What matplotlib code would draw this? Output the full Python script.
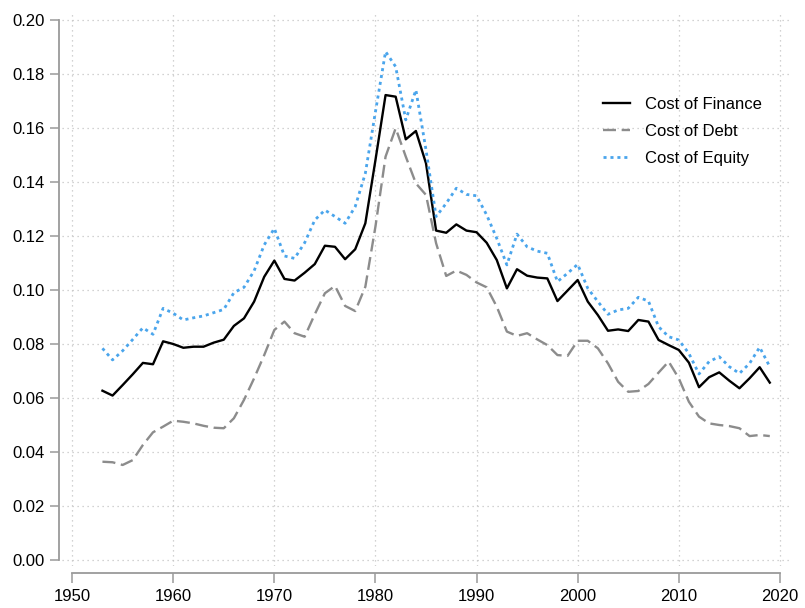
import matplotlib
matplotlib.use("Agg")
import matplotlib.pyplot as plt
import numpy as np

plt.rcParams['font.family'] = ['Liberation Sans', 'DejaVu Sans']

years = list(range(1953, 2020))

cost_finance = [
    0.0627, 0.0609, 0.0648, 0.0688, 0.0730, 0.0725, 0.0810, 0.0800, 0.0786, 0.0790,
    0.0790, 0.0805, 0.0816, 0.0867, 0.0895, 0.0957, 0.1049, 0.1109, 0.1041, 0.1035,
    0.1064, 0.1096, 0.1164, 0.1160, 0.1114, 0.1151, 0.1247, 0.1481, 0.1722, 0.1716,
    0.1558, 0.1589, 0.1469, 0.1220, 0.1212, 0.1243, 0.1220, 0.1214, 0.1175, 0.1111,
    0.1006, 0.1077, 0.1053, 0.1046, 0.1043, 0.0959, 0.0998, 0.1037, 0.0957, 0.0907,
    0.0849, 0.0854, 0.0848, 0.0889, 0.0883, 0.0815, 0.0796, 0.0778, 0.0731, 0.0640,
    0.0677, 0.0695, 0.0664, 0.0636, 0.0673, 0.0714, 0.0657,
]

cost_debt = [
    0.0364, 0.0362, 0.0352, 0.0370, 0.0426, 0.0473, 0.0494, 0.0516, 0.0512, 0.0506,
    0.0497, 0.0490, 0.0488, 0.0525, 0.0593, 0.0673, 0.0759, 0.0852, 0.0883, 0.0840,
    0.0827, 0.0910, 0.0988, 0.1015, 0.0941, 0.0922, 0.1012, 0.1235, 0.1494, 0.1599,
    0.1494, 0.1395, 0.1352, 0.1173, 0.1052, 0.1072, 0.1056, 0.1028, 0.1010, 0.0938,
    0.0846, 0.0830, 0.0840, 0.0817, 0.0796, 0.0759, 0.0756, 0.0812, 0.0812, 0.0784,
    0.0728, 0.0660, 0.0623, 0.0626, 0.0652, 0.0694, 0.0735, 0.0673, 0.0586, 0.0531,
    0.0506, 0.0500, 0.0496, 0.0488, 0.0459, 0.0463, 0.0459,
]

cost_equity = [
    0.0784, 0.0741, 0.0775, 0.0817, 0.0860, 0.0836, 0.0932, 0.0914, 0.0889, 0.0897,
    0.0904, 0.0916, 0.0928, 0.0990, 0.1010, 0.1071, 0.1167, 0.1228, 0.1126, 0.1117,
    0.1175, 0.1259, 0.1296, 0.1272, 0.1247, 0.1309, 0.1432, 0.1660, 0.1883, 0.1827,
    0.1630, 0.1741, 0.1519, 0.1272, 0.1321, 0.1377, 0.1354, 0.1349, 0.1278, 0.1191,
    0.1093, 0.1207, 0.1160, 0.1144, 0.1136, 0.1031, 0.1062, 0.1095, 0.1006, 0.0957,
    0.0910, 0.0926, 0.0932, 0.0973, 0.0959, 0.0864, 0.0827, 0.0815, 0.0765, 0.0689,
    0.0735, 0.0753, 0.0716, 0.0691, 0.0728, 0.0788, 0.0716,
]

x_ticks = [1950, 1960, 1970, 1980, 1990, 2000, 2010, 2020]
y_ticks = [0.00, 0.02, 0.04, 0.06, 0.08, 0.10, 0.12, 0.14, 0.16, 0.18, 0.20]
labels = ["Cost of Finance", "Cost of Debt", "Cost of Equity"]

W, H = 805, 608
fig = plt.figure(figsize=(W / 100, H / 100), dpi=100)
ax = fig.add_axes([62 / W, 1 - 566 / H, (790 - 62) / W, (566 - 14) / H])

ax.plot(years, cost_finance, color="black", lw=1.7, ls="-", label=labels[0])
ax.plot(years, cost_debt, color="#8c8c8c", lw=1.7, ls=(0, (5.5, 2.4)), label=labels[1])
ax.plot(years, cost_equity, color="#4aa5ec", lw=2.0, ls=(0, (1.1, 1.4)), label=labels[2])

ax.set_xlim(1949.0, 2021.0)
ax.set_ylim(-0.00222, 0.20222)
ax.set_xticks(x_ticks)
ax.set_yticks(y_ticks)
ax.set_yticklabels([f"{v:.2f}" for v in y_ticks])

ax.grid(True, color="#c4c4c4", ls=(0, (1, 3)), lw=0.9)
ax.set_axisbelow(True)

for s in ["top", "right"]:
    ax.spines[s].set_visible(False)
ax.spines["left"].set_position(("outward", 2.2))
ax.spines["bottom"].set_position(("outward", 5))
ax.spines["left"].set_bounds(0, 0.2)
ax.spines["bottom"].set_bounds(1950, 2020)
for s in ["left", "bottom"]:
    ax.spines[s].set_color("#9a9a9a")
    ax.spines[s].set_linewidth(1.3)

ax.tick_params(axis="y", length=6.5, width=1.1, color="#9a9a9a", labelsize=12, pad=4)
ax.tick_params(axis="x", length=7, width=1.1, color="#9a9a9a", labelsize=12, pad=4.5)

leg = ax.legend(loc="upper left", bbox_to_anchor=(588 / W, 1 - 82 / H),
                bbox_transform=fig.transFigure, frameon=False, fontsize=12,
                handlelength=1.6, handletextpad=0.9, labelspacing=0.72)

fig.savefig("out.png", dpi=100)
